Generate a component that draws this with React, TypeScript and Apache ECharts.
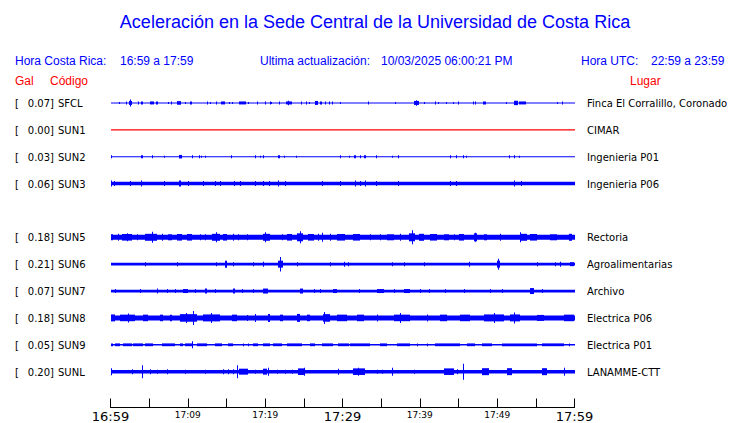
import React, { useEffect, useRef } from "react";
import * as echarts from "echarts";

// ---------- data ----------
const stations = ["SFCL", "SUN1", "SUN2", "SUN3", "SUN5", "SUN6", "SUN7", "SUN8", "SUN9", "SUNL"];
const peakGal = ["0.07", "0.00", "0.03", "0.06", "0.18", "0.21", "0.07", "0.18", "0.05", "0.20"];
const locations = [
  "Finca El Corralillo, Coronado",
  "CIMAR",
  "Ingenieria P01",
  "Ingenieria P06",
  "Rectoria",
  "Agroalimentarias",
  "Archivo",
  "Electrica P06",
  "Electrica P01",
  "LANAMME-CTT",
];
// trace slot (SUN4 slot left empty)
const traceSlots = [0, 1, 2, 3, 5, 6, 7, 8, 9, 10];
// continuous background half-amplitude of each trace (display units)
const baseAmp = [0.5, 0.6, 0.5, 1.8, 2.5, 1.4, 1.4, 2.5, 0.8, 1.8];
const traceColors = ["#0000ff", "#ff0000", "#0000ff", "#0000ff", "#0000ff", "#0000ff", "#0000ff", "#0000ff", "#0000ff", "#0000ff"];

// x axis: minutes since 16:59
const tickMinutes = [0, 10, 20, 30, 40, 50, 60];
const tickLabels = ["16:59", "17:09", "17:19", "17:29", "17:39", "17:49", "17:59"];

// bursts: [startMinute, endMinute, halfAmplitude]
const burstsSFCL = [
  [1.1, 1.1, 1], [2.04, 2.04, 1.5], [2.39, 2.74, 2], [2.55, 2.55, 3.5], [3.6, 3.6, 1.5], [3.95, 4.17, 1.5],
  [5.11, 5.63, 1.5], [5.89, 6.19, 1.5], [7.48, 7.48, 1], [7.87, 7.87, 1.5], [8.65, 9.09, 1.8], [9.68, 9.68, 1],
  [10.25, 10.51, 1.5], [12.45, 12.45, 1.5], [12.92, 12.92, 1], [13.61, 13.61, 1.5], [14.34, 14.82, 1.5],
  [15.37, 15.37, 1], [15.69, 15.69, 1], [16.67, 17.57, 1.5], [17.83, 17.83, 1], [19.0, 19.0, 1.5], [20.0, 20.0, 1.5],
  [20.6, 20.6, 1.5], [20.81, 20.81, 1], [21.77, 21.77, 1.5], [22.75, 23.53, 1.5], [23.0, 23.0, 2.2], [24.61, 24.61, 1.5],
  [25.3, 25.3, 1.5], [25.73, 25.73, 1], [26.43, 26.81, 2], [27.11, 27.41, 1.5], [27.76, 27.76, 1.5], [28.19, 28.19, 1.5],
  [28.63, 28.63, 1.5], [29.74, 29.74, 1], [33.36, 33.36, 1.5], [36.82, 36.82, 1], [39.28, 39.83, 2], [39.5, 39.5, 2.8],
  [40.48, 40.48, 1], [41.9, 41.9, 1.5], [42.29, 42.29, 1], [43.33, 43.33, 1], [44.23, 44.23, 1], [44.88, 44.88, 1.5],
  [46.87, 46.87, 1.5], [47.08, 47.08, 1.5], [48.12, 48.12, 1.5], [48.34, 48.6, 1.5], [51.09, 51.09, 1],
  [52.22, 52.65, 2.2], [52.87, 53.68, 1.5], [57.74, 57.74, 1], [58.39, 58.39, 1.5],
];
const burstsSUN1: number[][] = [];
const burstsSUN2 = [
  [0.06, 0.06, 1.5], [3.95, 4.17, 1.5], [5.41, 5.41, 1.5], [6.96, 6.96, 1], [8.86, 9.25, 1.8], [10.59, 10.59, 1.5],
  [11.49, 11.49, 1.5], [11.75, 11.75, 1], [12.27, 12.27, 1], [15.56, 15.56, 1.5], [18.74, 18.74, 1.5], [19.31, 19.31, 1],
  [19.74, 19.74, 1.5], [21.72, 21.9, 1.5], [22.49, 22.49, 1], [24.05, 24.05, 1], [29.74, 29.74, 1.5], [30.87, 30.87, 1],
  [31.51, 31.73, 1.5], [32.2, 32.38, 1.5], [32.81, 33.03, 1.5], [34.36, 34.36, 1.5], [36.39, 36.39, 1], [37.12, 37.34, 1.5],
  [43.85, 43.85, 1.5], [44.62, 44.8, 1.5], [45.53, 45.75, 1.5], [45.92, 45.92, 1], [51.48, 51.48, 1.5], [52.13, 52.13, 1.5],
  [52.78, 52.78, 1],
];
const burstsSUN3 = [
  [0.06, 0.06, 3], [0.49, 0.49, 2.5], [2.56, 2.56, 2.5], [3.95, 3.95, 3], [6.96, 6.96, 2.5], [8.86, 9.12, 3],
  [10.07, 10.07, 2.5], [12.01, 12.01, 2.5], [13.56, 13.56, 2.5], [14.21, 14.21, 2.5], [16.02, 16.02, 2.5], [16.8, 16.8, 2.5],
  [18.7, 18.7, 2.5], [19.77, 19.77, 2.5], [20.51, 20.51, 2.5], [21.72, 21.72, 3], [22.62, 22.62, 2.5], [27.41, 27.41, 2.5],
  [29.74, 29.74, 2.5], [31.64, 31.64, 3], [32.2, 32.2, 2.5], [32.85, 33.03, 3], [34.36, 34.36, 2.5], [37.12, 37.12, 2.5],
  [43.85, 43.85, 2.5], [44.71, 44.71, 2.5], [52.13, 52.13, 3], [53.03, 53.03, 2.5],
];
const burstsSUN5 = [
  [0, 0.32, 3], [1.01, 1.01, 3.5], [1.45, 2.74, 3.3], [2.14, 2.14, 4], [3.39, 3.39, 3], [4.46, 5.98, 3.5], [5.37, 5.37, 5.5],
  [6.63, 6.63, 3.5], [7.44, 7.92, 3], [8.57, 9.21, 3.3], [9.86, 10.51, 3.3], [11.58, 11.58, 3], [12.23, 12.23, 3],
  [13.1, 14.17, 3.5], [13.65, 13.65, 5], [14.56, 15.04, 3.3], [15.89, 15.89, 3.5], [16.54, 16.54, 3], [17.63, 17.83, 3],
  [19.77, 20.64, 3.5], [20.0, 20.0, 5], [22.16, 22.16, 3], [22.8, 23.45, 3.3], [24.1, 24.95, 4], [24.52, 24.52, 6],
  [25.6, 26.25, 3.3], [26.89, 26.89, 3.5], [27.33, 27.33, 4.5], [28.41, 28.41, 3.5], [29.27, 30.35, 3.3], [31.42, 32.29, 3.3],
  [33.58, 33.58, 3], [34.88, 34.88, 3], [35.74, 36.6, 3], [37.47, 37.47, 3.5], [38.54, 39.41, 4], [38.98, 38.98, 7],
  [39.83, 40.48, 3.5], [41.35, 42.22, 3.3], [43.07, 43.72, 3], [44.36, 44.36, 3], [45.01, 45.66, 3.3], [46.95, 47.39, 4],
  [47.1, 47.1, 4.5], [48.25, 48.69, 3], [50.41, 50.41, 3.5], [53.0, 53.86, 3.5], [53.0, 53.0, 5], [54.29, 55.16, 3.3],
  [56.88, 57.75, 3], [59.25, 59.69, 3.5],
];
const burstsSUN6 = [
  [4.46, 4.46, 2], [8.57, 8.57, 2], [13.65, 13.65, 2], [14.82, 15.12, 3.5], [15.89, 15.89, 2], [18.4, 18.4, 2],
  [19.77, 19.77, 2.5], [21.64, 22.29, 3.5], [21.97, 21.97, 7.3], [24.1, 24.1, 2], [28.41, 28.41, 2], [30.13, 30.13, 2.5],
  [30.77, 30.77, 2], [36.39, 36.39, 2], [37.89, 37.89, 2], [40.48, 40.48, 2], [46.3, 46.3, 2.5], [49.98, 50.32, 3.5],
  [50.15, 50.15, 5.5], [55.16, 55.16, 2], [57.53, 57.53, 2], [58.17, 58.17, 2.5], [59.47, 59.89, 2],
];
const burstsSUN7 = [
  [0.58, 0.58, 2], [3.82, 3.82, 2], [5.98, 6.19, 2.5], [7.27, 7.27, 2], [8.35, 8.35, 2], [9.42, 10.07, 2], [10.94, 10.94, 2],
  [12.23, 12.45, 2.5], [13.52, 13.52, 2], [15.89, 16.11, 2.5], [16.98, 16.98, 2], [18.48, 18.48, 2], [19.77, 20.42, 2.5],
  [24.52, 24.95, 2.5], [26.25, 26.25, 2], [27.11, 27.11, 2], [28.83, 29.27, 2], [32.07, 32.07, 2], [34.45, 35.31, 2],
  [36.6, 36.6, 2], [37.89, 38.76, 2], [39.98, 39.98, 2], [41.13, 41.13, 2], [43.29, 43.29, 2], [45.66, 45.66, 2],
  [49.11, 49.11, 2], [50.63, 50.63, 2], [54.29, 54.72, 3], [55.8, 55.8, 2],
];
const burstsSUN8 = [
  [0, 0.58, 3.5], [1.23, 3.17, 3.3], [2.2, 2.2, 4.5], [4.24, 4.89, 3.3], [6.41, 6.83, 3.3], [7.7, 7.92, 3.3], [8.99, 11.16, 3.8],
  [10.64, 10.64, 7], [9.8, 9.8, 5], [12.01, 14.17, 3.5], [13.0, 13.0, 5], [15.69, 16.33, 3.3], [17.63, 17.83, 3],
  [18.7, 18.7, 4], [20.42, 20.64, 4], [21.94, 22.36, 3.3], [24.1, 24.52, 4], [25.39, 25.82, 3.3], [27.54, 28.41, 3.8],
  [27.67, 27.67, 6], [29.27, 30.57, 3.3], [31.86, 32.72, 3.3], [34.45, 34.45, 3.5], [36.6, 38.76, 3.3], [37.47, 37.47, 5],
  [40.92, 40.92, 3.5], [42.64, 43.51, 3.3], [45.23, 46.53, 3.3], [48.25, 50.84, 3.5], [49.54, 49.54, 5], [51.7, 53.0, 3.5],
  [52.13, 52.13, 5.5], [55.16, 56.01, 3], [58.6, 59.89, 3.3],
];
const burstsSUN9 = [
  [0, 0.36, 1.4], [0.58, 1.23, 1.4], [1.66, 2.74, 1.4], [2.95, 4.24, 1.4], [4.46, 5.54, 1.4], [6.63, 8.35, 1.4],
  [8.99, 9.42, 1.4], [9.64, 10.51, 1.4], [10.59, 10.59, 3.5], [11.16, 12.45, 1.4], [13.52, 14.39, 1.4], [15.25, 15.89, 1.4],
  [17.19, 17.19, 1.4], [17.83, 17.83, 1.4], [18.48, 19.13, 1.4], [19.77, 20.64, 1.4], [21.07, 22.16, 1.4], [22.8, 24.74, 1.4],
  [25.82, 26.46, 1.4], [27.33, 28.83, 1.4], [29.48, 30.78, 1.4], [30.99, 33.58, 1.4], [34.88, 35.74, 1.4], [37.04, 38.76, 1.4],
  [39.63, 39.63, 1.4], [40.92, 40.92, 1.4], [41.99, 45.23, 1.4], [46.1, 47.18, 1.4], [48.04, 49.33, 1.4], [50.63, 55.16, 1.4],
  [55.8, 58.6, 1.4], [59.25, 59.25, 1.4],
];
const burstsSUNL = [
  [0.06, 0.23, 3.5], [2.74, 2.74, 2.5], [4.04, 4.04, 6.5], [5.11, 5.11, 2.5], [5.98, 5.98, 2], [7.27, 7.27, 2.5],
  [9.64, 9.64, 2], [12.23, 12.23, 2], [14.6, 14.6, 2.5], [15.25, 15.25, 2.5], [15.81, 15.81, 2.5], [16.33, 16.33, 6.5],
  [16.67, 17.83, 3], [18.7, 18.7, 2], [19.77, 20.21, 3], [20.38, 20.38, 4], [21.51, 21.51, 2], [22.58, 22.58, 2],
  [23.45, 23.45, 2], [24.3, 25.04, 3.3], [25.04, 25.04, 4], [29.48, 29.48, 3], [31.42, 32.94, 3.3], [32.03, 32.03, 4],
  [34.45, 34.45, 2], [35.1, 35.1, 2], [36.39, 36.39, 4], [39.19, 39.19, 2], [43.07, 44.36, 3.3], [44.8, 44.8, 2.5],
  [45.58, 45.58, 8], [48.04, 48.89, 3.5], [51.27, 51.92, 3.5], [55.8, 56.45, 3.5], [58.6, 58.6, 4],
];
const stationBursts = [burstsSFCL, burstsSUN1, burstsSUN2, burstsSUN3, burstsSUN5, burstsSUN6, burstsSUN7, burstsSUN8, burstsSUN9, burstsSUNL];

const ROW = 27; // vertical spacing between traces, in display units
const FONT_LABEL = '10px "DejaVu Sans"';
const FONT_HEAD = '12px "Liberation Sans", Arial, sans-serif';

function traceSeries(i: number) {
  const yOff = traceSlots[i] * ROW;
  const data = [[0, 60, baseAmp[i]], ...stationBursts[i]];
  return {
    type: "custom",
    name: stations[i],
    silent: true,
    encode: { x: [0, 1] },
    data,
    renderItem: (params: any, api: any) => {
      const t0 = api.value(0);
      const t1 = api.value(1);
      const a = api.value(2);
      const p0 = api.coord([t0, yOff - a]);
      const p1 = api.coord([t1, yOff + a]);
      const x = Math.round(p0[0]);
      const w = Math.max(1, Math.round(p1[0]) - x);
      const y = Math.min(p0[1], p1[1]);
      const h = Math.max(1, Math.abs(p1[1] - p0[1]));
      return { type: "rect", shape: { x, y, width: w, height: h }, style: { fill: traceColors[i] } };
    },
  };
}

function labelSeries() {
  return {
    type: "custom",
    silent: true,
    data: stations.map((_, i) => [0, traceSlots[i] * ROW, i]),
    encode: { x: 0, y: 1 },
    renderItem: (params: any, api: any) => {
      const i = api.value(2);
      const y = api.coord([0, api.value(1)])[1] + 0.5;
      const t = (x: number, text: string, align: string) => ({
        type: "text",
        x,
        y,
        style: { text, fill: "#000", font: FONT_LABEL, align, textAlign: align, verticalAlign: "middle", textVerticalAlign: "middle" },
      });
      return {
        type: "group",
        children: [t(15, "[", "left"), t(54, peakGal[i] + "]", "right"), t(58, stations[i], "left"), t(587, locations[i], "left")],
      };
    },
  };
}

function headText(x: number, y: number, text: string, fill: string, font = FONT_HEAD, align = "left") {
  return {
    type: "text",
    x,
    y,
    silent: true,
    style: { text, fill, font, align, textAlign: align, verticalAlign: "middle", textVerticalAlign: "middle" },
  };
}

export default function App() {
  const ref = useRef<HTMLDivElement>(null);
  useEffect(() => {
    if (!ref.current) return;
    const chart = echarts.init(ref.current, null, { renderer: "svg" });
    const option: any = {
      animation: false,
      backgroundColor: "#ffffff",
      grid: { left: 110.5, width: 464, top: 89.5, height: 319.5 },
      xAxis: {
        type: "value",
        position: "bottom",
        min: 0,
        max: 60,
        interval: 5,
        splitLine: { show: false },
        axisLine: { onZero: false, lineStyle: { color: "#000", width: 1 } },
        axisTick: { inside: true, length: 9, lineStyle: { color: "#000", width: 1 } },
        axisLabel: {
          margin: 2,
          showMinLabel: true,
          showMaxLabel: true,
          formatter: (v: number) => {
            const k = tickMinutes.indexOf(v);
            if (k < 0) return "";
            return v % 30 === 0 ? `{big|${tickLabels[k]}}` : `{small|${tickLabels[k]}}`;
          },
          rich: {
            big: { fontSize: 13, fontFamily: "DejaVu Sans", color: "#000", lineHeight: 14 },
            small: { fontSize: 9, fontFamily: "DejaVu Sans", color: "#000", lineHeight: 10 },
          },
        },
      },
      yAxis: { type: "value", inverse: true, min: -13.5, max: 306, show: false },
      series: [...stations.map((_, i) => traceSeries(i)), labelSeries()],
      graphic: [
        headText(375, 22, "Aceleración en la Sede Central de la Universidad de Costa Rica", "#0000ff", '18px "Liberation Sans", Arial, sans-serif', "center"),
        headText(15, 61, "Hora Costa Rica:", "#0000ff"),
        headText(120, 61, "16:59 a 17:59", "#0000ff"),
        headText(260, 61, "Ultima actualización:", "#0000ff"),
        headText(381, 61, "10/03/2025 06:00:21 PM", "#0000ff"),
        headText(581, 61, "Hora UTC:", "#0000ff"),
        headText(651, 61, "22:59 a 23:59", "#0000ff"),
        headText(15, 81, "Gal", "#ff0000"),
        headText(50, 81, "Código", "#ff0000"),
        headText(630, 81, "Lugar", "#ff0000"),
      ],
    };
    chart.setOption(option);
    return () => chart.dispose();
  }, []);
  return <div ref={ref} style={{ position: "fixed", left: 0, top: 0, width: 740, height: 423 }} />;
}
